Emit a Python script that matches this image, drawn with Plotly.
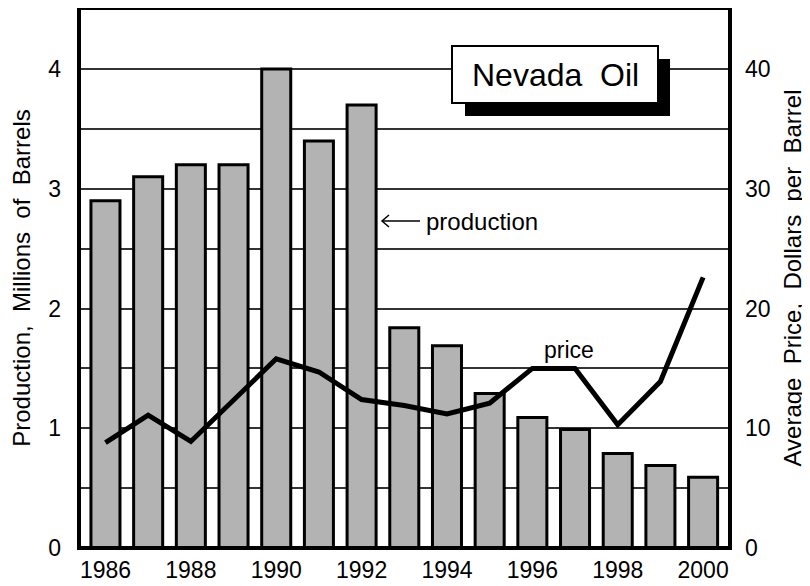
import plotly.graph_objects as go

years = list(range(1986, 2001))
production = [2.9, 3.1, 3.2, 3.2, 4.0, 3.4, 3.7, 1.84, 1.69, 1.29, 1.09, 0.99, 0.79, 0.69, 0.59]
price = [8.8, 11.1, 8.9, 12.3, 15.8, 14.7, 12.4, 11.9, 11.2, 12.1, 15.0, 15.0, 10.3, 13.9, 22.6]
x_ticks = [1986, 1988, 1990, 1992, 1994, 1996, 1998, 2000]
left_ticks = [0, 1, 2, 3, 4]
right_ticks = [0, 10, 20, 30, 40]

FONT = "Arial, Liberation Sans, sans-serif"
NB = "\u00a0"
SP2 = NB + " "

fig = go.Figure()
fig.add_trace(go.Bar(x=years, y=production, width=0.68,
                     marker=dict(color="#b3b3b3", line=dict(color="black", width=3)),
                     showlegend=False, yaxis="y"))
fig.add_trace(go.Scatter(x=years, y=price, mode="lines",
                         line=dict(color="black", width=5),
                         showlegend=False, yaxis="y2"))

OFF = 8  # page body margin
W, H = 810 - OFF, 586 - OFF
# plot area in screen pixels
L, R, T, B = 79, 730, 8, 548
pw, ph = R - L, B - T
def px(x):
    return (x - L) / pw
def py(y):
    return (B - y) / ph

shapes = [
    dict(type="rect", xref="paper", yref="paper", x0=px(465), x1=px(670), y0=py(116), y1=py(59),
         fillcolor="black", line=dict(width=0), layer="above"),
    dict(type="rect", xref="paper", yref="paper", x0=px(452), x1=px(658), y0=py(103), y1=py(46),
         fillcolor="white", line=dict(color="black", width=2), layer="above"),
    dict(type="line", xref="paper", yref="paper", x0=px(382), x1=px(420), y0=py(221), y1=py(221),
         line=dict(color="black", width=1.5), layer="above"),
    dict(type="path", xref="paper", yref="paper",
         path=f"M {px(389)},{py(215)} L {px(382)},{py(221)} L {px(389)},{py(227)}",
         line=dict(color="black", width=1.5), layer="above"),
    dict(type="rect", xref="paper", yref="paper", x0=0, x1=1, y0=0, y1=1,
         line=dict(color="black", width=4), layer="above"),
]

annotations = [
    dict(text=f"Nevada{SP2}Oil", xref="paper", yref="paper", x=px(555), y=py(75),
         showarrow=False, font=dict(size=32, color="black", family=FONT),
         xanchor="center", yanchor="middle"),
    dict(text="production", xref="paper", yref="paper", x=px(424), y=py(221),
         showarrow=False, font=dict(size=24, color="black", family=FONT),
         xanchor="left", yanchor="middle"),
    dict(text="price", xref="paper", yref="paper", x=px(569), y=py(350),
         showarrow=False, font=dict(size=23, color="black", family=FONT),
         xanchor="center", yanchor="middle"),
]

fig.update_layout(
    width=W, height=H,
    margin=dict(l=L - OFF, r=810 - R, t=T - OFF, b=586 - B, autoexpand=False),
    paper_bgcolor="white", plot_bgcolor="white",
    font=dict(family=FONT, size=23, color="black"),
    xaxis=dict(range=[1985.38, 2000.63], tickvals=x_ticks, ticktext=[str(v) for v in x_ticks],
               showgrid=False, zeroline=False, showline=False, ticks="", automargin=False,
               ticklabelstandoff=6, tickfont=dict(size=23)),
    yaxis=dict(range=[0, 4.51], tickvals=left_ticks, ticktext=[str(v) for v in left_ticks],
               showgrid=True, gridcolor="#333333", gridwidth=1.5, zeroline=False, automargin=False,
               minor=dict(dtick=0.5, tick0=0, showgrid=True, gridcolor="#333333", gridwidth=1.5),
               ticks="", ticklabelstandoff=17, tickfont=dict(size=23),
               title=dict(text=f"Production,{SP2}Millions{SP2}of{SP2}Barrels",
                          font=dict(size=24), standoff=14)),
    yaxis2=dict(range=[0, 45.1], overlaying="y", side="right", tickvals=right_ticks,
                ticktext=[str(v) for v in right_ticks], showgrid=False, zeroline=False,
                ticks="", ticklabelstandoff=14, tickfont=dict(size=23), automargin=False,
                title=dict(text=f"Average{SP2}Price,{SP2}Dollars{SP2}per{SP2}Barrel",
                           font=dict(size=24), standoff=14)),
    shapes=shapes,
    annotations=annotations,
)

fig.write_html("out.html")
